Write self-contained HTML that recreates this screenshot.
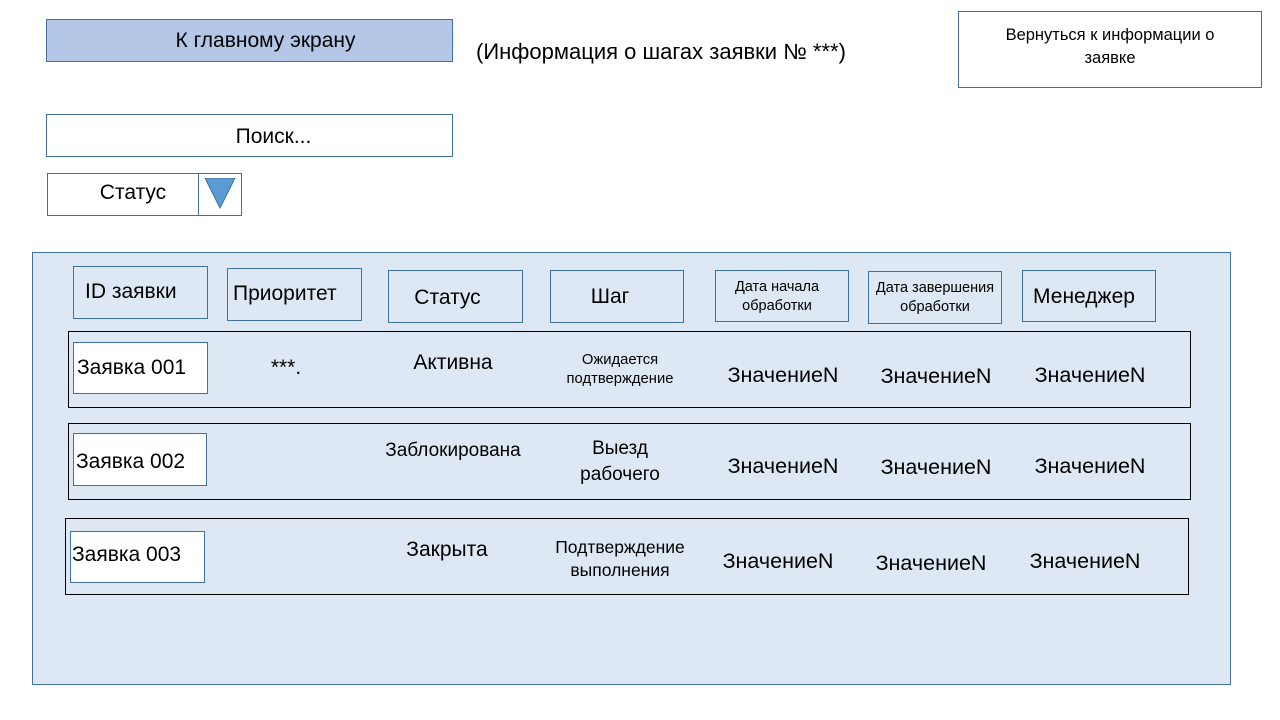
<!DOCTYPE html>
<html><head><meta charset="utf-8"><style>
body{margin:0;width:1280px;height:720px;background:#fff;position:relative;overflow:hidden;font-family:"Liberation Sans","DejaVu Sans",sans-serif;color:#000}
.b{position:absolute;box-sizing:border-box;border:1px solid #41719c}
.r{position:absolute;box-sizing:border-box;border:1px solid #000}
.t{position:absolute;text-align:center;white-space:nowrap;line-height:1.2}
.l{position:absolute;white-space:nowrap;line-height:1.2}
</style></head><body>
<div class="b" style="left:46px;top:19px;width:407px;height:43px;background:#b4c7e7"></div>
<div class="t" style="left:62px;top:28px;width:407px;font-size:21px">К главному экрану</div>
<div class="l" style="left:476px;top:39px;font-size:22px">(Информация о шагах заявки № ***)</div>
<div class="b" style="left:958px;top:11px;width:304px;height:77px;background:#fff"></div>
<div class="t" style="left:958px;top:24px;width:304px;font-size:16.5px;line-height:23px">Вернуться к информации о<br>заявке</div>
<div class="b" style="left:46px;top:114px;width:407px;height:43px;background:#fff"></div>
<div class="t" style="left:70px;top:124px;width:407px;font-size:21px">Поиск...</div>
<div class="b" style="left:47px;top:173px;width:195px;height:43px;background:#fff"></div>
<div class="b" style="left:198px;top:173px;width:1px;height:43px;border-width:0 0 0 1px"></div>
<svg style="position:absolute;left:204px;top:178px" width="33" height="32"><polygon points="1,0 31,0 16,30" fill="#5b9bd5" stroke="#41719c"/></svg>
<div class="t" style="left:47px;top:180px;width:172px;font-size:21px">Статус</div>
<div class="b" style="left:32px;top:252px;width:1199px;height:433px;background:#dee8f4"></div>
<div class="b" style="left:73px;top:266px;width:135px;height:53px"></div>
<div class="l" style="left:85px;top:279px;font-size:21px">ID заявки</div>
<div class="b" style="left:227px;top:268px;width:135px;height:53px"></div>
<div class="l" style="left:233px;top:281px;font-size:21px">Приоритет</div>
<div class="b" style="left:388px;top:270px;width:135px;height:53px"></div>
<div class="t" style="left:380px;top:285px;width:135px;font-size:21px">Статус</div>
<div class="b" style="left:550px;top:270px;width:134px;height:53px"></div>
<div class="t" style="left:543px;top:284px;width:134px;font-size:21px">Шаг</div>
<div class="b" style="left:715px;top:270px;width:134px;height:52px"></div>
<div class="t" style="left:710px;top:278px;width:134px;font-size:14.5px;line-height:19px">Дата начала<br>обработки</div>
<div class="b" style="left:868px;top:271px;width:134px;height:53px"></div>
<div class="t" style="left:868px;top:279px;width:134px;font-size:14.5px;line-height:19px">Дата завершения<br>обработки</div>
<div class="b" style="left:1022px;top:270px;width:134px;height:52px"></div>
<div class="t" style="left:1017px;top:284px;width:134px;font-size:21px">Менеджер</div>

<div class="r" style="left:68px;top:331px;width:1123px;height:77px"></div>
<div class="b" style="left:73px;top:342px;width:135px;height:52px;background:#fff"></div>
<div class="l" style="left:77px;top:355px;font-size:21px">Заявка 001</div>
<div class="t" style="left:236px;top:355px;width:100px;font-size:21px">***.</div>
<div class="t" style="left:393px;top:350px;width:120px;font-size:21px">Активна</div>
<div class="t" style="left:540px;top:351px;width:160px;font-size:14.8px;line-height:19px">Ожидается<br>подтверждение</div>
<div class="t" style="left:713px;top:363px;width:140px;font-size:21.5px">ЗначениеN</div>
<div class="t" style="left:866px;top:364px;width:140px;font-size:21.5px">ЗначениеN</div>
<div class="t" style="left:1020px;top:363px;width:140px;font-size:21.5px">ЗначениеN</div>

<div class="r" style="left:68px;top:423px;width:1123px;height:77px"></div>
<div class="b" style="left:73px;top:433px;width:134px;height:53px;background:#fff"></div>
<div class="l" style="left:76px;top:449px;font-size:21px">Заявка 002</div>
<div class="t" style="left:373px;top:440px;width:160px;font-size:19px">Заблокирована</div>
<div class="t" style="left:545px;top:436px;width:150px;font-size:19px;line-height:26px">Выезд<br>рабочего</div>
<div class="t" style="left:713px;top:454px;width:140px;font-size:21.5px">ЗначениеN</div>
<div class="t" style="left:866px;top:455px;width:140px;font-size:21.5px">ЗначениеN</div>
<div class="t" style="left:1020px;top:454px;width:140px;font-size:21.5px">ЗначениеN</div>

<div class="r" style="left:65px;top:518px;width:1124px;height:77px"></div>
<div class="b" style="left:70px;top:531px;width:135px;height:52px;background:#fff"></div>
<div class="l" style="left:72px;top:542px;font-size:21px">Заявка 003</div>
<div class="t" style="left:387px;top:537px;width:120px;font-size:21px">Закрыта</div>
<div class="t" style="left:540px;top:536px;width:160px;font-size:17.5px;line-height:23px">Подтверждение<br>выполнения</div>
<div class="t" style="left:708px;top:549px;width:140px;font-size:21.5px">ЗначениеN</div>
<div class="t" style="left:861px;top:551px;width:140px;font-size:21.5px">ЗначениеN</div>
<div class="t" style="left:1015px;top:549px;width:140px;font-size:21.5px">ЗначениеN</div>
</body></html>
